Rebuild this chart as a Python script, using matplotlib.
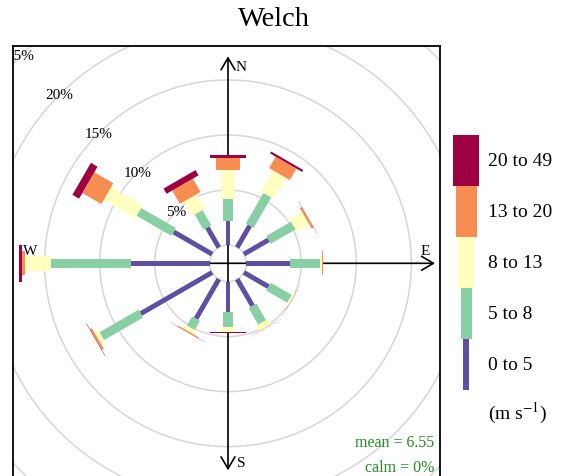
import matplotlib
matplotlib.use("Agg")
import matplotlib.pyplot as plt
import numpy as np
from matplotlib.patches import Polygon, Circle, Rectangle, FancyArrowPatch

# ---------------- data (percent frequency per direction and speed class) -------------
directions = [0, 30, 60, 90, 120, 150, 180, 210, 240, 270, 300, 330]
ws_0_5   = [2.15, 2.3, 2.6, 4.0, 2.6, 2.8, 2.8, 4.15, 7.5, 7.15, 4.05, 2.1]
ws_5_8   = [2.0, 3.2, 2.6, 2.7, 2.2, 1.75, 1.35, 0.95, 4.1, 7.25, 3.65, 1.6]
ws_8_13  = [2.65, 2.2, 1.3, 0.2, 0.2, 0.55, 0.45, 0.4, 0.4, 2.4, 3.3, 1.5]
ws_13_20 = [1.15, 1.2, 0.2, 0.05, 0.02, 0.02, 0.02, 0.1, 0.2, 0.3, 2.0, 1.4]
ws_20_49 = [0.2, 0.2, 0.02, 0.05, 0.01, 0.01, 0.08, 0.02, 0.04, 0.2, 0.7, 0.55]
class_labels = ["0 to 5", "5 to 8", "8 to 13", "13 to 20", "20 to 49"]
grid_levels = [5, 10, 15, 20, 25]
grid_labels = ["5%", "10%", "15%", "20%", "25%"]
title = "Welch"
mean_ws = 6.55
calm_pct = 0

# ---------------- styles ----------------
colors = ["#5E4FA2", "#88CFA4", "#FFFFBF", "#F88D52", "#9E0142"]
bar_widths = [0.45, 0.82, 1.36, 2.18, 3.36]      # data units (percent)
legend_widths = [6, 11, 16, 21, 26]              # px
OFFSET = 1.664                                   # calm circle radius (percent units)
SERIF = ["Liberation Serif", "DejaVu Serif"]
plt.rcParams["font.family"] = SERIF
plt.rcParams["mathtext.fontset"] = "stix"

W, H = 562, 477
fig = plt.figure(figsize=(W / 100, H / 100), dpi=100)

# main panel (pixel geometry -> data units in percent, 11 px per percent)
PX = 11.0
cx, cy = 228.0, 264.3
left, right, top, bottom = 13, 440, 47, 481
ax = fig.add_axes([left / W, (H - bottom) / H, (right - left) / W, (bottom - top) / H])
ax.set_xlim((left - cx) / PX, (right - cx) / PX)
ax.set_ylim((cy - bottom) / PX, (cy - top) / PX)
ax.set_xticks([])
ax.set_yticks([])
for s in ax.spines.values():
    s.set_linewidth(1.3)
    s.set_color("black")

# grid circles
for lev in grid_levels:
    ax.add_patch(Circle((0, 0), OFFSET + lev, fill=False, ec="#d6d6d6", lw=1.1, zorder=1))
ax.add_patch(Circle((0, 0), OFFSET, fill=False, ec="#d6d6d6", lw=1.1, zorder=1))

# axis arrows
rmax = 207 / PX
for (x0, y0, x1, y1) in [(-rmax, 0, rmax, 0), (0, -rmax, 0, rmax)]:
    ax.add_patch(FancyArrowPatch((x0, y0), (x1, y1),
                                 arrowstyle="<->,head_length=0.85,head_width=0.5",
                                 mutation_scale=10, lw=1.2, color="black",
                                 shrinkA=0, shrinkB=0, zorder=2))

# grid labels at NW
for lev, lab in zip(grid_levels, grid_labels):
    r = OFFSET + lev
    ang = np.deg2rad(315)
    ax.text(r * np.sin(ang), r * np.cos(ang), lab, ha="center", va="center",
            fontsize=11, color="black", clip_on=True, zorder=3)

# compass labels
ax.text(0.73, 17.53, "N", ha="left", va="baseline", fontsize=11)
ax.text(17.52, 0.85, "E", ha="left", va="baseline", fontsize=11)
ax.text(0.85, -18.45, "S", ha="left", va="baseline", fontsize=11)
ax.text(-18.66, 0.85, "W", ha="left", va="baseline", fontsize=11)

# bars
series = [ws_0_5, ws_5_8, ws_8_13, ws_13_20, ws_20_49]
cum = np.cumsum(np.array(series), axis=0)
for j, d in enumerate(directions):
    th = np.deg2rad(d)
    u = np.array([np.sin(th), np.cos(th)])
    p = np.array([np.cos(th), -np.sin(th)])
    r_prev = OFFSET
    for k in range(len(series)):
        r_next = OFFSET + cum[k, j]
        hw = bar_widths[k] / 2
        pts = [r_prev * u - hw * p, r_prev * u + hw * p,
               r_next * u + hw * p, r_next * u - hw * p]
        ax.add_patch(Polygon(pts, closed=True, fc=colors[k], ec="none", zorder=4))
        r_prev = r_next

# mean / calm text
ax.text((434 - cx) / PX, (cy - 443) / PX, f"mean = {mean_ws}", ha="right", va="center",
        fontsize=11.5, color="#228B22", zorder=5)
ax.text((434 - cx) / PX, (cy - 468) / PX, f"calm = {calm_pct}%", ha="right", va="center",
        fontsize=11.5, color="#228B22", zorder=5)

# title
fig.text(274 / W, (H - 26.5) / H, title, ha="center", va="baseline", fontsize=20.5)

# legend
lax = fig.add_axes([440 / W, (H - 430) / H, 122 / W, 310 / H])
lax.set_xlim(0, 122)
lax.set_ylim(310, 0)
lax.axis("off")
band_h = 51
top0 = 16
for i, k in enumerate(range(len(colors) - 1, -1, -1)):
    y0 = top0 + i * band_h
    w = legend_widths[k]
    lax.add_patch(Rectangle((26 - w / 2, y0), w, band_h, fc=colors[k], ec="none"))
    lax.text(48, y0 + band_h / 2, class_labels[k], ha="left", va="center", fontsize=14)
lax.text(48, 293, r"(m s$^{-1}$)", ha="left", va="center", fontsize=14)

fig.savefig("out.png", dpi=100)
